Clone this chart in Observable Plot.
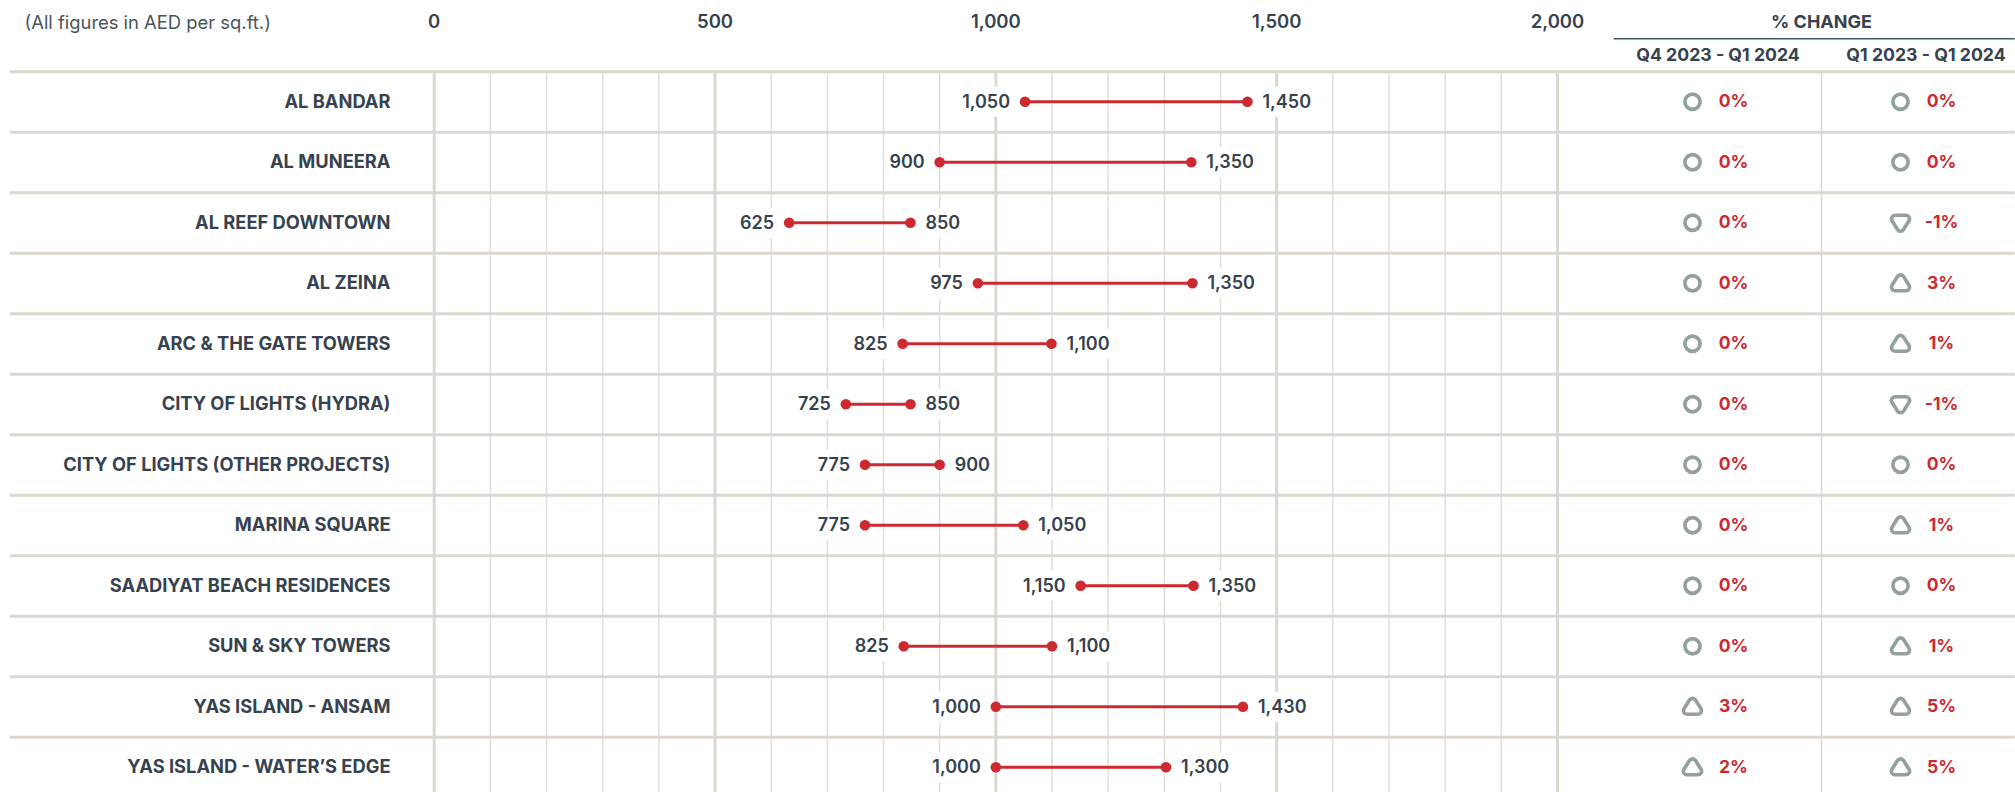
<!DOCTYPE html>
<html><head><meta charset="utf-8">
<style>html,body{margin:0;padding:0;background:#fff;overflow:hidden}svg{display:block}</style>
<script src="https://cdn.jsdelivr.net/npm/d3@7"></script>
<script src="https://cdn.jsdelivr.net/npm/@observablehq/plot@0.6"></script>
</head><body><div id="chart"></div>
<script>
const names = ["AL BANDAR","AL MUNEERA","AL REEF DOWNTOWN","AL ZEINA","ARC & THE GATE TOWERS","CITY OF LIGHTS (HYDRA)","CITY OF LIGHTS (OTHER PROJECTS)","MARINA SQUARE","SAADIYAT BEACH RESIDENCES","SUN & SKY TOWERS","YAS ISLAND - ANSAM","YAS ISLAND - WATER’S EDGE"];
// Printed labels
const lows = [1050,900,625,975,825,725,775,775,1150,825,1000,1000];
const highs = [1450,1350,850,1350,1100,850,900,1050,1350,1100,1430,1300];
// Where the reference actually draws each dot on its axis
const lowsDrawn = [1052,900,632,968,834,733,767,767,1151,836,1000,1000];
const highsDrawn = [1448,1348,848,1350,1099,848,900,1049,1352,1100,1440,1303];
const qoq = [0,0,0,0,0,0,0,0,0,0,3,2];
const yoy = [0,0,-1,3,1,-1,0,1,0,1,5,5];
const majorTicks = [0,500,1000,1500,2000];
const minorTicks = [100,200,300,400,600,700,800,900,1100,1200,1300,1400,1600,1700,1800,1900];

const rows = names.map((name,i)=>({name,low:lows[i],high:highs[i],lowAt:lowsDrawn[i],highAt:highsDrawn[i],qoq:qoq[i],yoy:yoy[i]}));
const ink="#36424f", grid="#dcd8d1", gridMinor="#e2dfd9", red="#cc2a30", sym="#93a09e";
const font="Inter, sans-serif";
const fmt=d3.format(",");
const rounded=(pts,rad)=>({draw(c){
  const n=pts.length, m=(a,b)=>[(a[0]+b[0])/2,(a[1]+b[1])/2];
  const s=m(pts[n-1],pts[0]); c.moveTo(s[0],s[1]);
  pts.forEach((p,i)=>{const q=pts[(i+1)%n]; c.arcTo(p[0],p[1],q[0],q[1],rad);});
  c.closePath();
}});
const up=rounded([[0,-11.5],[12,7.5],[-12,7.5]],3.6);
const down=rounded([[0,11.5],[12,-7.5],[-12,-7.5]],3.6);
const box=(w,h)=>({draw(c){c.rect(-w/2,-h/2,w,h);}});
const wideBox=box(52,30), narrowBox=box(38,30);
const labelBoxes=(key,at,sign)=>[
  Plot.dot(rows.filter(d=>d[key]>=1000),{x:at,y:"name",r:5,symbol:wideBox,fill:"#fff",dx:sign*(15+26)}),
  Plot.dot(rows.filter(d=>d[key]<1000),{x:at,y:"name",r:5,symbol:narrowBox,fill:"#fff",dx:sign*(15+19)})
];
const changeColumn=(key,dx)=>[
  Plot.dot(rows.filter(d=>d[key]===0),{y:"name",frameAnchor:"left",dx,r:7.6,symbol:"circle",fill:"none",stroke:sym,strokeWidth:3.6}),
  Plot.dot(rows.filter(d=>d[key]>0),{y:"name",frameAnchor:"left",dx,r:7,symbol:up,fill:"none",stroke:sym,strokeWidth:3.6}),
  Plot.dot(rows.filter(d=>d[key]<0),{y:"name",frameAnchor:"left",dx,r:7,symbol:down,fill:"none",stroke:sym,strokeWidth:3.6}),
  Plot.text(rows,{y:"name",frameAnchor:"left",dx:dx+41,textAnchor:"middle",text:d=>d[key]+"%",fill:red,fontFamily:font,fontWeight:700,fontSize:17.6})
];
const first=()=>names[0], last=()=>names[names.length-1];
const chart=Plot.plot({
  width:2015,height:792,
  marginTop:0,marginBottom:0,marginLeft:0,marginRight:0,
  style:{background:"#fff"},
  x:{type:"linear",domain:[0,2000],range:[433.7,1557],axis:null},
  y:{type:"band",domain:names,range:[71,797],padding:0,round:false,axis:null},
  marks:[
    Plot.ruleX(minorTicks,{stroke:gridMinor,strokeWidth:1.5,y1:first,y2:last}),
    Plot.ruleX(majorTicks,{stroke:grid,strokeWidth:3,y1:first,y2:last}),
    Plot.ruleX([2470],{stroke:grid,strokeWidth:1.5,y1:first,y2:last}),
    ...labelBoxes("low","lowAt",-1),
    ...labelBoxes("high","highAt",1),
    Plot.ruleY(names,{stroke:grid,strokeWidth:3,dy:-30,x1:-755,x2:2815}),
    Plot.ruleY([names[0]],{stroke:"#4a5560",strokeWidth:1.5,dy:-63,x1:2101,x2:2815}),
    Plot.link(rows,{x1:"lowAt",x2:"highAt",y1:"name",y2:"name",stroke:red,strokeWidth:3}),
    Plot.dot(rows,{x:"lowAt",y:"name",r:5.3,fill:red}),
    Plot.dot(rows,{x:"highAt",y:"name",r:5.3,fill:red}),
    Plot.text(rows,{x:"lowAt",y:"name",text:d=>fmt(d.low),dx:-15,textAnchor:"end",fill:ink,fontFamily:font,fontWeight:600,fontSize:18}),
    Plot.text(rows,{x:"highAt",y:"name",text:d=>fmt(d.high),dx:15,textAnchor:"start",fill:ink,fontFamily:font,fontWeight:600,fontSize:18}),
    Plot.text(rows,{y:"name",frameAnchor:"left",dx:390,textAnchor:"end",text:"name",fill:ink,fontFamily:font,fontWeight:700,fontSize:18.3}),
    Plot.text(majorTicks,{x:d=>d,frameAnchor:"top",dy:14,text:d=>fmt(d),fill:ink,fontFamily:font,fontWeight:600,fontSize:18.5}),
    Plot.text(["(All figures in AED per sq.ft.)"],{frameAnchor:"top-left",dx:24,dy:15.5,fill:"#4a545d",fontFamily:font,fontWeight:400,fontSize:18.4}),
    Plot.text(["% CHANGE"],{frameAnchor:"top-left",dx:1821,dy:15,textAnchor:"middle",fill:ink,fontFamily:font,fontWeight:700,fontSize:18}),
    Plot.text(["Q4 2023 - Q1 2024"],{frameAnchor:"top-left",dx:1717.5,dy:48,textAnchor:"middle",fill:ink,fontFamily:font,fontWeight:700,fontSize:17.7}),
    Plot.text(["Q1 2023 - Q1 2024"],{frameAnchor:"top-left",dx:1925.5,dy:48,textAnchor:"middle",fill:ink,fontFamily:font,fontWeight:700,fontSize:17.7}),
    ...changeColumn("qoq",1692),
    ...changeColumn("yoy",1900)
  ]
});
document.getElementById("chart").append(chart);
</script></body></html>
